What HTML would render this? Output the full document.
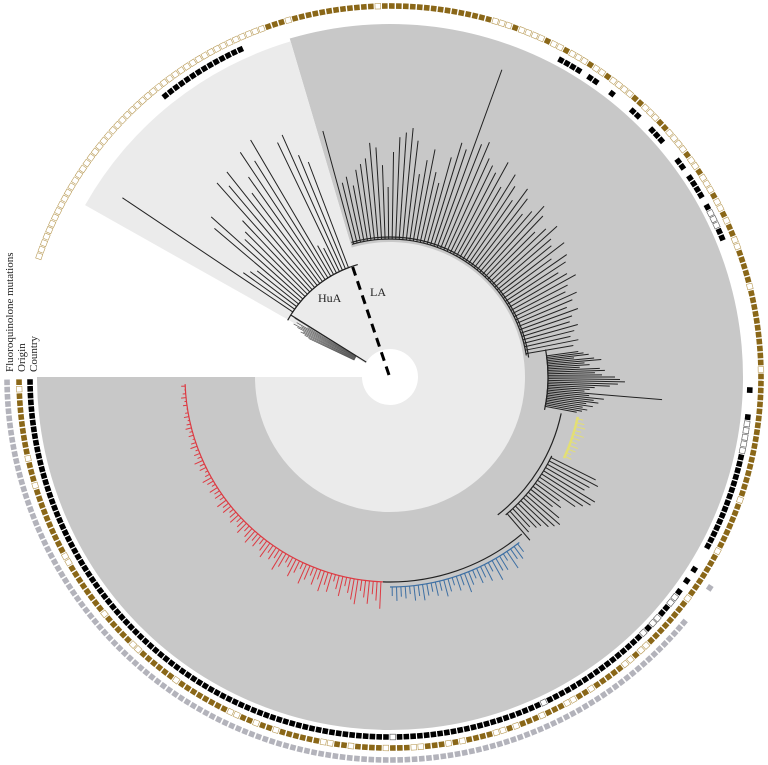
<!DOCTYPE html>
<html><head><meta charset="utf-8"><style>
html,body{margin:0;padding:0;background:#fff;width:768px;height:765px;overflow:hidden}
svg{display:block;font-family:"Liberation Serif",serif}
</style></head><body>
<svg id="chart" width="768" height="765" viewBox="0 0 768 765" xmlns="http://www.w3.org/2000/svg">
<g id="bg"></g>
<g id="tree"></g>
<g id="rings"></g>
<line x1="389" y1="375" x2="351" y2="262" stroke="#000" stroke-width="3" stroke-dasharray="9,6"/>
<text x="318" y="302" font-size="12" fill="#222">HuA</text>
<text x="370" y="296" font-size="12" fill="#222">LA</text>
<text transform="translate(13,372) rotate(-90)" font-size="11" fill="#222">Fluoroquinolone mutations</text>
<text transform="translate(25,372) rotate(-90)" font-size="11" fill="#222">Origin</text>
<text transform="translate(37,372) rotate(-90)" font-size="11" fill="#222">Country</text>
</svg>
<script>
const CX=390, CY=377;
// ring data: one char per leaf position, starting at 199deg, step 1.08deg clockwise
const ringStart=199, ringStep=1.08, ringCount=316;
const countryRing =
  ".".repeat(30) + "K".repeat(14) + ".".repeat(48) +
  "KKKK.KK..K...KK..KKK...KK.KKKK.KWWWKK..." +
  ".".repeat(19) + "K...KWWWWW" + "K".repeat(15) + "...K.K.KWWKKWWKWKKKKK" +
  "KKKKKKKKKKKKWKKKKKKKKKKKKKKKKKKKKKKWKKKKKKKKKKKKKKKKKKKKKKKKKKKKKKKKKKKKKKKKKKKKKKKKKKKKKKKKKKKKKKKKKKKKKKKKKKKKKKKKKKKKKKK";
const originRing =
  "W".repeat(48) +
  "BBBWBBBBBBBBBBBBWBBBBBBBBBBBBBBBBW" +
  "WWBWWWWBWWBWWWBWWBWWWWBBWWWBBWWWWBWWBWWWBWWBWBBWW" +
  "BBBBBWBBBBBBBBBBBWBBBBBBBBBBBBBBBBBBWBBBBBBBWBBB" +
  "BBBBWBBBBBBBBWWBWWBBBBBWBBWWBBBWBBBWBWWBBBBWBWBBBWWBBBWBBBBWBBWWBBBBBBWBBWBBWWBBBBBBBBWBBBBBBWWBBBBBWBBBBBBBBWWBBBBBBBBBBWBBBWBBBBBBBBBWBBB";
const fluoroRing = ".".repeat(180) + "G....." + "G".repeat(140);

// clades: tip radii, spread evenly across angular range
const cladeNames=["hua-dense","hua","la","right","yellow","lower-right","blue","red"];
const cladeStart=[205,213,254,352,372,386,412,452];
const cladeEnd  =[212,250,351,371,385,410,450,538];
const cladeBase =[40,117,138,158,192,180,210,205];
const cladeColor=["#555","#222","#222","#222","#e3df74","#222","#3d6fa3","#dd3a42"];
const huaDenseTips=[90,95,100,98,105,110,102,108,96,112];
const huaTips=[322,180,175,170,230,240,200,205,215,260,250,262,230,245,270,255,275,150,145,260,265,240,230];
const laTips=[255,200,205,195,210,215,220,235,230,212,190,225,240,245,250,238,205,220,232,210,200,228,245,240,327,250,255,240,235,230,245,220,238,228,215,233,225,210,218,230,222,205,215,225,212,208,220,200,215,210,198,205,212,200,195,205,198,190,200,192,188,195,190,185,192,186];
const rightTips=[190,195,200,185,205,212,195,200,190,210,215,205,212,225,230,235,228,220,205,200,195,273,200,215,205,210,198,205,195,200,195,190];
const yellowTips=[198,200,202,199,203,200,198,201,200,197,199];
const lowerRightTips=[230,235,228,225,240,238,232,226,210,215,208,220,225,222,218,212,210,205,208,215];
const blueTips=[220,225,222,230,218,226,224,232,220,228,222,226,219,224,230,221,225,218,223,227,220,224,219,222,226,221,225,218,222,220,224,219];
const redTips=[232,224,218,228,222,216,230,226,220,214,225,219,212,224,218,226,215,222,214,220,226,212,218,224,216,213,220,226,215,219,214,222,217,212,218,214,220,216,212,218,214,211,216,213,210,215,212,216,210,213,211,214,209,212,215,210,208,212,210,214,209,211,208,212,210,207,210,208,211,209,207,210,208,206,209,207,210,208,206,209];
const cladeTips=[huaDenseTips,huaTips,laTips,rightTips,yellowTips,lowerRightTips,blueTips,redTips];

const NS="http://www.w3.org/2000/svg";
function pt(r,a){const t=a*Math.PI/180;return [CX+r*Math.cos(t),CY+r*Math.sin(t)];}
function sector(r0,r1,a0,a1){
  const large=(a1-a0)>180?1:0;const p0=pt(r1,a0),p1=pt(r1,a1);
  if(r0<=0){return `M${CX},${CY}L${p0}A${r1},${r1} 0 ${large} 1 ${p1}Z`;}
  const q1=pt(r0,a1),q0=pt(r0,a0);
  return `M${p0}A${r1},${r1} 0 ${large} 1 ${p1}L${q1}A${r0},${r0} 0 ${large} 0 ${q0}Z`;
}
function arcPath(r,a0,a1){const large=(a1-a0)>180?1:0;return `M${pt(r,a0)}A${r},${r} 0 ${large} 1 ${pt(r,a1)}`;}
function mk(tag,attrs,parent){const e=document.createElementNS(NS,tag);for(const k in attrs)e.setAttribute(k,attrs[k]);parent.appendChild(e);return e;}

const bg=document.getElementById('bg');
let e;
e=mk('path',{d:sector(0,353,253.5,539.99),fill:'#c8c8c8'},bg);


e=mk('path',{d:sector(0,135,209.4,539.99),fill:'#ebebeb'},bg);


e=mk('path',{d:sector(0,350,209.4,253.5),fill:'#ebebeb'},bg);


e=mk('circle',{cx:CX,cy:CY,r:28,fill:'#fff'},bg);



const tree=document.getElementById('tree');
e=mk('path',{d:arcPath(117,209,254)+arcPath(140,254,352)+arcPath(158,350,372)+arcPath(175,372,412)+arcPath(205,410,452),fill:'none',stroke:'#222','stroke-width':1.2},tree);


cladeNames.forEach((name,ci)=>{
  const tips=cladeTips[ci];const a0=cladeStart[ci],a1=cladeEnd[ci],b=cladeBase[ci],col=cladeColor[ci];
  const g=mk('g',{},tree);
  
  
  const arc=mk('path',{d:arcPath(b,a0,a1),fill:'none',stroke:col,'stroke-width':ci==4?2.5:1.2},g);
  
  
  tips.forEach((r,i)=>{
    const a=a0+(a1-a0)*(i+0.5)/tips.length;
    const p=pt(b,a),q=pt(r,a);
    const l=mk('line',{x1:p[0],y1:p[1],x2:q[0],y2:q[1],stroke:col,'stroke-width':ci==0?0.7:1},g);
    
    
  });
});
e=mk('line',{x1:pt(28,212)[0],y1:pt(28,212)[1],x2:pt(117,212)[0],y2:pt(117,212)[1],stroke:'#222','stroke-width':1.2},tree);



const rings=document.getElementById('rings');
const ringDefs=[[countryRing,360,'country-ring'],[originRing,371,'origin-ring'],[fluoroRing,383,'fluoroquinolone-ring']];
ringDefs.forEach(([str,r,name])=>{
  const g=mk('g',{},rings);
  
  
  for(let i=0;i<ringCount;i++){
    const c=str[i]||'.';if(c==='.')continue;
    const a=ringStart+i*ringStep;const p=pt(r,a);
    let fill='#fff',stroke='none';
    if(c==='K')fill='#000';else if(c==='B')fill='#8a6718';else if(c==='G')fill='#b3b3bb';
    else {fill='#fff';stroke=(name==='origin-ring')?'#b89a55':'#555';}
    const s=mk('rect',{x:-2.8,y:-2.8,width:5.6,height:5.6,fill:fill,stroke:stroke,'stroke-width':0.6,transform:`translate(${p[0].toFixed(2)},${p[1].toFixed(2)}) rotate(${a})`},g);
    
    
  }
});
</script>
</body></html>
